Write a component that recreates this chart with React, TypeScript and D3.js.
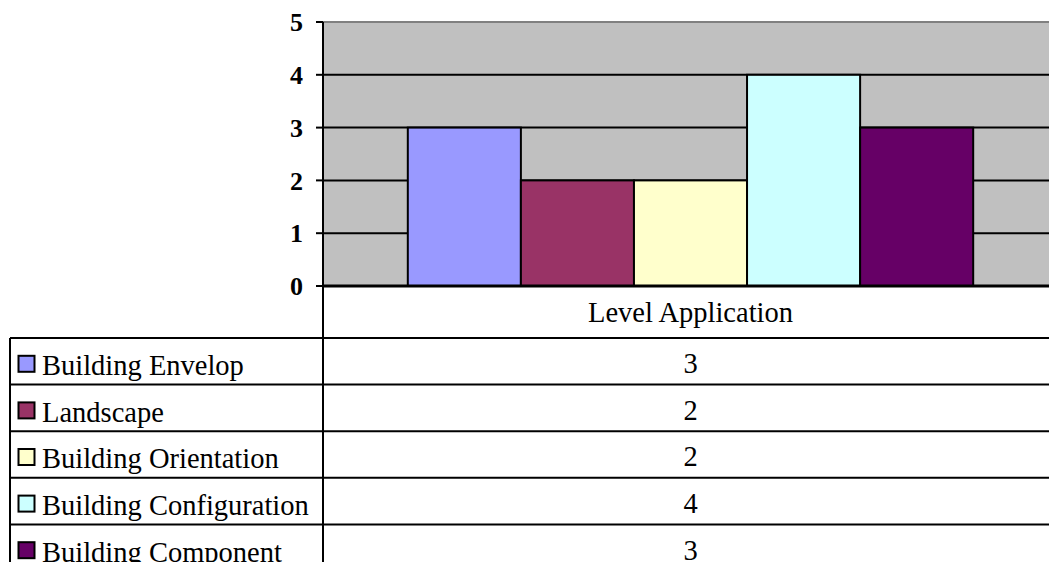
import { useMemo } from "react";
import { scaleBand, scaleLinear } from "d3";

const totalWidth = 1049;
const totalHeight = 562;

const categories = ["Level Application"];
const seriesNames = [
  "Building Envelop",
  "Landscape",
  "Building Orientation",
  "Building Configuration",
  "Building Component",
];
const seriesValues = [3, 2, 2, 4, 3];
const seriesColors = ["#9999FF", "#993366", "#FFFFCC", "#CCFFFF", "#660066"];
const yTicks = [0, 1, 2, 3, 4, 5];

const plotLeft = 323;
const plotRight = 1058;
const plotTop = 22;
const plotBottom = 286;
const headerBottom = 338;
const rowHeight = 46.6;
const tableLeft = 10;
const gapWidth = 1.5;
const font = "'Liberation Serif', 'Times New Roman', serif";

export default function App() {
  const { y, x0, x1 } = useMemo(() => {
    const y = scaleLinear().domain([0, 5]).range([plotBottom, plotTop]);
    const x0 = scaleBand<string>().domain(categories).range([plotLeft, plotRight]);
    const bw = x0.bandwidth();
    const groupWidth = (bw * seriesNames.length) / (seriesNames.length + gapWidth);
    const start = (x0(categories[0]) ?? 0) + (bw - groupWidth) / 2;
    const x1 = scaleBand<string>()
      .domain(seriesNames)
      .range([start, start + groupWidth]);
    return { y, x0, x1 };
  }, []);

  const catCenter = (x0(categories[0]) ?? 0) + x0.bandwidth() / 2;

  return (
    <svg
      width={totalWidth}
      height={totalHeight}
      style={{ position: "absolute", left: 0, top: 0 }}
    >
      <rect x={0} y={0} width={totalWidth} height={totalHeight} fill="white" />
      {/* plot area */}
      <rect
        x={plotLeft}
        y={plotTop}
        width={plotRight - plotLeft}
        height={plotBottom - plotTop}
        fill="#C0C0C0"
      />
      <line
        x1={plotLeft}
        x2={plotRight}
        y1={plotTop}
        y2={plotTop}
        stroke="#808080"
        strokeWidth={2}
      />
      {yTicks.slice(1, -1).map((t) => (
        <line
          key={t}
          x1={plotLeft}
          x2={plotRight}
          y1={y(t)}
          y2={y(t)}
          stroke="black"
          strokeWidth={2}
        />
      ))}
      {seriesNames.map((s, i) => (
        <rect
          key={s}
          x={x1(s)}
          y={y(seriesValues[i])}
          width={x1.bandwidth()}
          height={y(0) - y(seriesValues[i])}
          fill={seriesColors[i]}
          stroke="black"
          strokeWidth={2}
        />
      ))}
      {/* y axis */}
      <line x1={plotLeft} x2={plotLeft} y1={plotTop} y2={totalHeight} stroke="black" strokeWidth={2} />
      {yTicks.map((t) => (
        <g key={t}>
          <line x1={plotLeft - 7} x2={plotLeft} y1={y(t)} y2={y(t)} stroke="black" strokeWidth={2} />
          <text
            x={plotLeft - 20}
            y={y(t)}
            dy="0.35em"
            textAnchor="end"
            fontFamily={font}
            fontWeight="bold"
            fontSize={26}
          >
            {t}
          </text>
        </g>
      ))}
      <line x1={plotLeft} x2={plotRight} y1={plotBottom} y2={plotBottom} stroke="black" strokeWidth={3} />
      {/* data table */}
      <text
        x={catCenter}
        y={(plotBottom + headerBottom) / 2}
        dy="0.35em"
        textAnchor="middle"
        fontFamily={font}
        fontSize={28.5}
      >
        {categories[0]}
      </text>
      <line x1={tableLeft} x2={totalWidth} y1={headerBottom} y2={headerBottom} stroke="black" strokeWidth={2} />
      <line x1={tableLeft} x2={tableLeft} y1={headerBottom} y2={totalHeight} stroke="black" strokeWidth={2} />
      {seriesNames.map((s, i) => {
        const top = headerBottom + i * rowHeight;
        const mid = top + rowHeight / 2 + 4;
        return (
          <g key={s}>
            <line
              x1={tableLeft}
              x2={totalWidth}
              y1={top + rowHeight}
              y2={top + rowHeight}
              stroke="black"
              strokeWidth={2}
            />
            <rect
              x={18.5}
              y={mid - 9.5}
              width={16}
              height={16}
              fill={seriesColors[i]}
              stroke="black"
              strokeWidth={2}
            />
            <text x={42} y={mid} dy="0.35em" fontFamily={font} fontSize={28.5}>
              {s}
            </text>
            <text
              x={catCenter}
              y={mid - 2}
              dy="0.35em"
              textAnchor="middle"
              fontFamily={font}
              fontSize={28.5}
            >
              {seriesValues[i]}
            </text>
          </g>
        );
      })}
    </svg>
  );
}
